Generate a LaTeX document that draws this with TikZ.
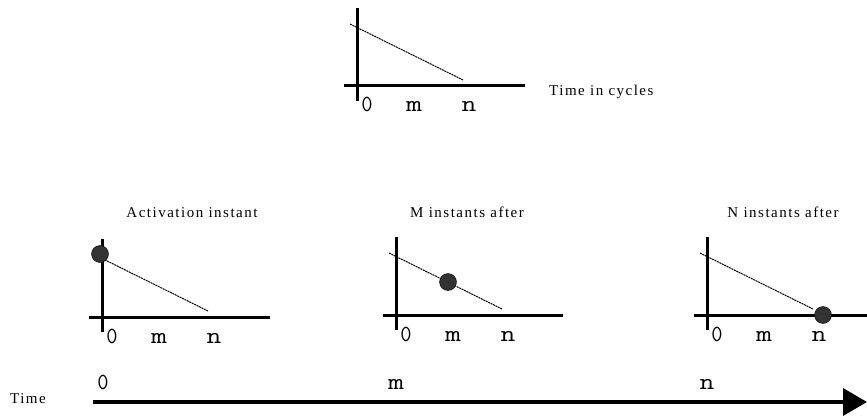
\documentclass[tikz,border=0pt]{standalone}
\usepackage{fontspec}
\setmainfont{Liberation Serif}
\newfontfamily\serl[LetterSpace=10]{Liberation Serif}
\usetikzlibrary{arrows.meta}
\definecolor{dotgray}{HTML}{333333}
\tikzset{
  axisline/.style={line width=3pt},
  diag/.style={line width=1pt, dash pattern=on 2pt off 0.7pt},
  dotm/.style={circle, fill=dotgray, draw=black, line width=0.4pt, inner sep=0pt, minimum size=17pt},
  monolbl/.style={font=\ttfamily\fontsize{23}{23}\selectfont, anchor=base, inner sep=0pt},
  serlbl/.style={font=\serl\fontsize{15}{15}\selectfont, inner sep=0pt},
}
\newcommand\lblzero{\scalebox{0.95}[1]{0}}
\newcommand\lblm{\scalebox{1.35}[1]{m}}
\newcommand\lbln{\scalebox{1.25}[1]{n}}
\newcommand\drawgraph[4]{%
  \begin{scope}[shift={(#2,#3)}]
    \coordinate (#1-o) at (0,0);
    \coordinate (#1-vt) at (0,-78);
    \coordinate (#1-vb) at (0,15);
    \coordinate (#1-hl) at (-13,0);
    \coordinate (#1-hr) at (#4,0);
    \coordinate (#1-ds) at (-7,-62);
    \coordinate (#1-de) at (106,-6);
    \draw[axisline] (#1-vt) -- (#1-vb);
    \draw[axisline] (#1-hl) -- (#1-hr);
    \draw[diag] (#1-ds) -- (#1-de);
    \node[monolbl] (#1-l0) at (10,26) {\lblzero};
    \node[monolbl] (#1-lm) at (57,26) {\lblm};
    \node[monolbl] (#1-ln) at (112,26) {\lbln};
  \end{scope}}
\begin{document}
\begin{tikzpicture}[x=1pt,y=-1pt]
\useasboundingbox (0,0) rectangle (867,417);
% top graph
\drawgraph{top}{357}{86}{168}
\node[serlbl, anchor=base west] (tic) at (549,96) {Time in cycles};
% three bottom graphs
\drawgraph{ga}{102}{317}{168}
\drawgraph{gb}{396}{315}{167}
\drawgraph{gc}{707}{315}{160}
\node[dotm] (da) at (100,254) {};
\node[dotm] (db) at (448,282) {};
\node[dotm] (dc) at (823,315) {};
\node[serlbl, anchor=base] (ta) at (192,217) {Activation instant};
\node[serlbl, anchor=base] (tb) at (467,217) {M instants after};
\node[serlbl, anchor=base] (tc) at (783,217) {N instants after};
% time axis
\coordinate (ts) at (93,402);
\coordinate (te) at (867,402);
\draw[line width=3.5pt, -{Triangle[length=24pt,width=27pt]}] (ts) -- (te);
\node[serlbl, anchor=base west] (tl) at (10,403) {Time};
\node[monolbl] (b0) at (103,389) {\lblzero};
\node[monolbl] (bm) at (396,389) {\lblm};
\node[monolbl] (bn) at (707,389) {\lbln};
\end{tikzpicture}
\end{document}
